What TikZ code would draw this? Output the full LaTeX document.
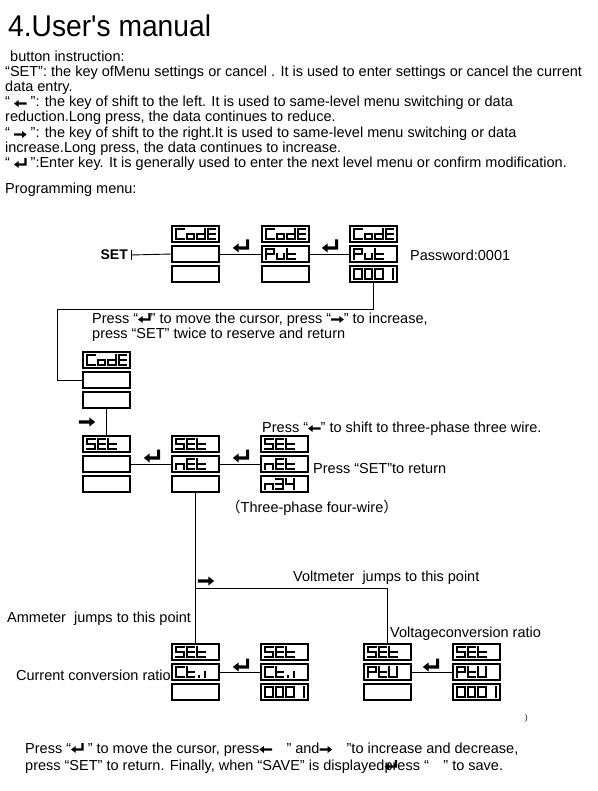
\documentclass[tikz,border=0pt]{standalone}
\usepackage{fontspec}
\setmainfont{Liberation Sans}
\newfontfamily\titlefont{Liberation Sans}[FakeStretch=0.94]
\newfontfamily\cjk{Noto Sans CJK SC}
\usetikzlibrary{positioning}

% key glyphs
\newcommand\enterkey[1][1]{\tikz[baseline=-0.5pt,x=#1pt,y=#1pt]\fill (0,3) -- (4.5,6.5) -- (4.5,4.2) -- (10.3,4.2) -- (10.3,9.5) -- (12.6,9.5) -- (12.6,1.8) -- (4.5,1.8) -- (4.5,-0.5) -- cycle;}
\newcommand\leftkey[1][1]{\tikz[baseline=-0.5pt,x=#1pt,y=#1pt]\fill (0,3) -- (4.5,6.5) -- (4.5,4.2) -- (12.6,4.2) -- (12.6,1.8) -- (4.5,1.8) -- (4.5,-0.5) -- cycle;}
\newcommand\rightkey[1][1]{\tikz[baseline=-0.5pt,x=#1pt,y=#1pt]\fill (12.6,3) -- (8.1,6.5) -- (8.1,4.2) -- (0,4.2) -- (0,1.8) -- (8.1,1.8) -- (8.1,-0.5) -- cycle;}

% seven segment display
\newcommand\sega{(0,0) -- (7.5,0)}
\newcommand\segb{(7.5,0) -- (7.5,5)}
\newcommand\segc{(7.5,5) -- (7.5,10)}
\newcommand\segd{(0,10) -- (7.5,10)}
\newcommand\sege{(0,5) -- (0,10)}
\newcommand\segf{(0,0) -- (0,5)}
\newcommand\segg{(0,5) -- (7.5,5)}
\newcommand\segp{(1.5,9) -- (1.5,10)}
\def\sevchC{a,d,e,f}
\def\sevcho{c,d,e,g}
\def\sevchd{b,c,d,e,g}
\def\sevchE{a,d,e,f,g}
\def\sevchP{a,b,e,f,g}
\def\sevchu{c,d,e}
\def\sevcht{d,e,f,g}
\def\sevchZ{a,b,c,d,e,f}
\def\sevchI{b,c}
\def\sevchS{a,c,d,f,g}
\def\sevchn{c,e,g}
\def\sevchT{a,b,c,d,g}
\def\sevchF{b,c,f,g}
\def\sevchU{b,c,d,e,f}
\def\sevchi{c,p}
\newcommand\segword[2]{%
  \foreach \ch [count=\k from 0] in {#2}{%
    \begin{scope}[shift={(#1.north west)},shift={(4+10.5*\k,3)}]
      \expandafter\let\expandafter\seglist\csname sevch\ch\endcsname
      \foreach \s in \seglist {%
        \expandafter\let\expandafter\segpath\csname seg\s\endcsname
        \draw[segline] \segpath;}
    \end{scope}}}
\newcommand\dispcol[2]{%
  \node[disp,anchor=north west] (#1a) at (#2) {};
  \node[disp,below=4pt of #1a] (#1b) {};
  \node[disp,below=4pt of #1b] (#1c) {};}

\newcommand\bodyfont{\fontsize{14.5}{15}\selectfont}

\begin{document}
\begin{tikzpicture}[x=1pt,y=-1pt,
  txt/.style={anchor=base west,inner sep=0pt,font=\bodyfont},
  disp/.style={draw,line width=1.2pt,minimum width=47pt,minimum height=16pt,inner sep=0pt,outer sep=0pt},
  segline/.style={line width=2pt,line cap=rect},
  link/.style={line width=0.9pt}]
\path[use as bounding box,fill=white] (0,0) rectangle (597,791);

% heading and key description
\node[txt,font=\titlefont\fontsize{30}{34}\selectfont] (title) at (8,37) {4.User's manual};
\node[txt] (l1) at (10,62) {button instruction:};
\node[txt] (l2) at (5,77) {“SET”: the key ofMenu settings or cancel . It is used to enter settings or cancel the current};
\node[txt] (l3) at (5,92) {data entry.};
\node[txt] (l4) at (5,107) {“ \leftkey\ ”: the key of shift to the left. It is used to same-level menu switching or data};
\node[txt] (l5) at (5,122) {reduction.Long press, the data continues to reduce.};
\node[txt] (l6) at (5,138) {“ \rightkey\ ”: the key of shift to the right.It is used to same-level menu switching or data};
\node[txt] (l7) at (5,153) {increase.Long press, the data continues to increase.};
\node[txt] (l8) at (5,168) {“ \enterkey\ ”:Enter key. It is generally used to enter the next level menu or confirm modification.};
\node[txt] (l9) at (5,194) {Programming menu:};

% password
\dispcol{code1}{172,226}
\dispcol{code2}{262,226}
\dispcol{code3}{350,226}
\dispcol{code4}{83,352}
\segword{code1a}{C,o,d,E}
\segword{code2a}{C,o,d,E}
\segword{code2b}{P,u,t}
\segword{code3a}{C,o,d,E}
\segword{code3b}{P,u,t}
\segword{code3c}{Z,Z,Z,I}
\segword{code4a}{C,o,d,E}
\node[anchor=east,inner sep=0pt,font=\fontsize{14}{14}\bfseries] (setkey) at (128,255) {SET};
\draw[link] ([xshift=3pt]setkey.north east) -- ([xshift=3pt]setkey.south east);
\draw[link] ([xshift=3pt]setkey.east) -- (code1b.west);
\draw[link] (code1b.east) -- (code2b.west);
\draw[link] (code2b.east) -- (code3b.west);
\node (ent1) at (241,246) {\enterkey[1.3]};
\node (ent2) at (330,246) {\enterkey[1.3]};
\node[txt] (pwd) at (410,261) {Password:0001};

% back to code
\coordinate (loopa) at (57,309);
\draw[link] (code3c.south) |- (loopa) |- (code4b.west);
\node[txt] (n1) at (92,323) {Press “\enterkey” to move the cursor, press “\rightkey” to increase,};
\node[txt] (n2) at (92,338) {press “SET” twice to reserve and return};

% network
\dispcol{net1}{83,436}
\dispcol{net2}{172,436}
\dispcol{net3}{261,436}
\segword{net1a}{S,E,t}
\segword{net2a}{S,E,t}
\segword{net2b}{n,E,t}
\segword{net3a}{S,E,t}
\segword{net3b}{n,E,t}
\segword{net3c}{n,T,F}
\draw[link] (code4c.south) -- (net1a.north);
\node (rgt1) at (87,422) {\rightkey[1.3]};
\draw[link] (net1b.east) -- (net2b.west);
\draw[link] (net2b.east) -- (net3b.west);
\node (ent3) at (152,456) {\enterkey[1.3]};
\node (ent4) at (241,456) {\enterkey[1.3]};
\node[txt] (n3) at (262,432) {Press “\leftkey” to shift to three-phase three wire.};
\node[txt] (n4) at (313,473) {Press “SET”to return};
\node[txt] (n5) at (226,512) {{\cjk （}Three-phase four-wire{\cjk ）}};

% ratios
\dispcol{ct1}{172,644}
\dispcol{ct2}{261,644}
\dispcol{pt1}{364,644}
\dispcol{pt2}{453,644}
\segword{ct1a}{S,E,t}
\segword{ct1b}{C,t,i}
\segword{ct2a}{S,E,t}
\segword{ct2b}{C,t,i}
\segword{ct2c}{Z,Z,Z,I}
\segword{pt1a}{S,E,t}
\segword{pt1b}{P,t,U}
\segword{pt2a}{S,E,t}
\segword{pt2b}{P,t,U}
\segword{pt2c}{Z,Z,Z,I}
\coordinate (fork) at (196,588);
\draw[link] (net2c.south) -- (ct1a.north);
\draw[link] (fork) -| (pt1a.north);
\node (rgt2) at (206,581) {\rightkey[1.3]};
\draw[link] (ct1b.east) -- (ct2b.west);
\draw[link] (pt1b.east) -- (pt2b.west);
\node (ent5) at (241,665) {\enterkey[1.3]};
\node (ent6) at (431,665) {\enterkey[1.3]};
\node[txt] (volt) at (293,581) {Voltmeter\ \ jumps to this point};
\node[txt] (amm) at (7,622) {Ammeter\ \ jumps to this point};
\node[txt] (vrat) at (390,637) {Voltageconversion ratio};
\node[txt,anchor=base east] (crat) at (171,680) {Current conversion ratio};
\node[txt,font=\fontsize{8}{8}\selectfont] (paren) at (525,720) {)};

% final note
\node[txt] (f1) at (25,753) {Press “\enterkey\ ” to move the cursor, press\leftkey\quad ” and\rightkey\quad ”to increase and decrease,};
\node[txt] (f2) at (25,770) {press “SET” to return. Finally, when “SAVE” is displayed\rlap{\enterkey}press “\quad ” to save.};
\end{tikzpicture}
\end{document}
